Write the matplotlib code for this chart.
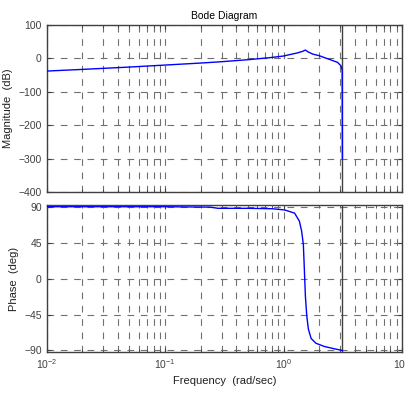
import numpy as np
import matplotlib
matplotlib.use("Agg")
import matplotlib.pyplot as plt
from matplotlib.ticker import LogLocator, NullFormatter

plt.rcParams["font.family"] = ["Liberation Sans", "DejaVu Sans"]

# values
mag_w = [0.01, 0.02, 0.05, 0.1, 0.2, 0.3, 0.5, 0.76, 1.0, 1.12, 1.3,
         1.45, 1.53, 1.6, 1.76, 2.0, 2.44, 2.86, 3.05, 3.13, 3.1416]
mag_db = [-38, -33, -26, -20, -14, -10, -4, 2, 7, 11, 16,
          21, 25, 20, 13, 8, -3, -12, -22, -35, -300]

ph_w = [0.01, 0.1, 0.24, 0.28, 0.5, 0.8, 1.02, 1.24, 1.36, 1.42, 1.47,
        1.50, 1.53, 1.57, 1.62, 1.71, 1.88, 2.21, 2.7, 3.1416]
ph_deg = [90, 90, 89.5, 88, 88, 87.5, 86, 82, 72, 60, 43,
          11, -22, -46, -63, -75, -81, -85, -88, -90]

nyq = np.pi
fg = "#404040"
gc = "#707070"


def style(ax):
    ax.set_xscale("log")
    ax.set_xlim(1e-2, 1e1)
    ax.xaxis.set_major_locator(LogLocator(base=10, numticks=10))
    ax.xaxis.set_minor_locator(LogLocator(base=10, subs=np.arange(2, 10), numticks=20))
    ax.xaxis.set_minor_formatter(NullFormatter())
    ax.grid(True, which="major", color=gc, ls=(0, (6, 6)), lw=0.8)
    ax.grid(True, which="minor", axis="x", color=gc, ls=(0, (6, 6)), lw=0.8)
    ax.tick_params(which="both", direction="in", colors=fg, labelsize=7.5,
                   top=True, right=True, length=3)
    ax.tick_params(which="minor", length=2)
    for s in ax.spines.values():
        s.set_color(fg)
        s.set_linewidth(1.0)
    ax.axvline(nyq, color=fg, lw=1.0)


fig = plt.figure(figsize=(4.06, 3.96), dpi=100)
ax1 = fig.add_axes([0.115, 0.515, 0.875, 0.422])
ax2 = fig.add_axes([0.115, 0.111, 0.875, 0.371])

style(ax1)
ax1.plot(mag_w, mag_db, color="#0000ff", lw=1.0, zorder=3)
ax1.set_ylim(-400, 100)
ax1.set_yticks([100, 0, -100, -200, -300, -400])
ax1.set_xticklabels([])
ax1.set_ylabel("Magnitude  (dB)", fontsize=8, color="#202020")
ax1.set_title("Bode Diagram", fontsize=7.5, pad=4)

style(ax2)
ax2.plot(ph_w, ph_deg, color="#0000ff", lw=1.0, zorder=3)
ax2.set_ylim(-92, 92)
ax2.set_yticks([90, 45, 0, -45, -90])
ax2.set_ylabel("Phase  (deg)", fontsize=8, color="#202020")
ax2.set_xlabel("Frequency  (rad/sec)", fontsize=8, color="#202020")

fig.savefig("out.png", dpi=100)
